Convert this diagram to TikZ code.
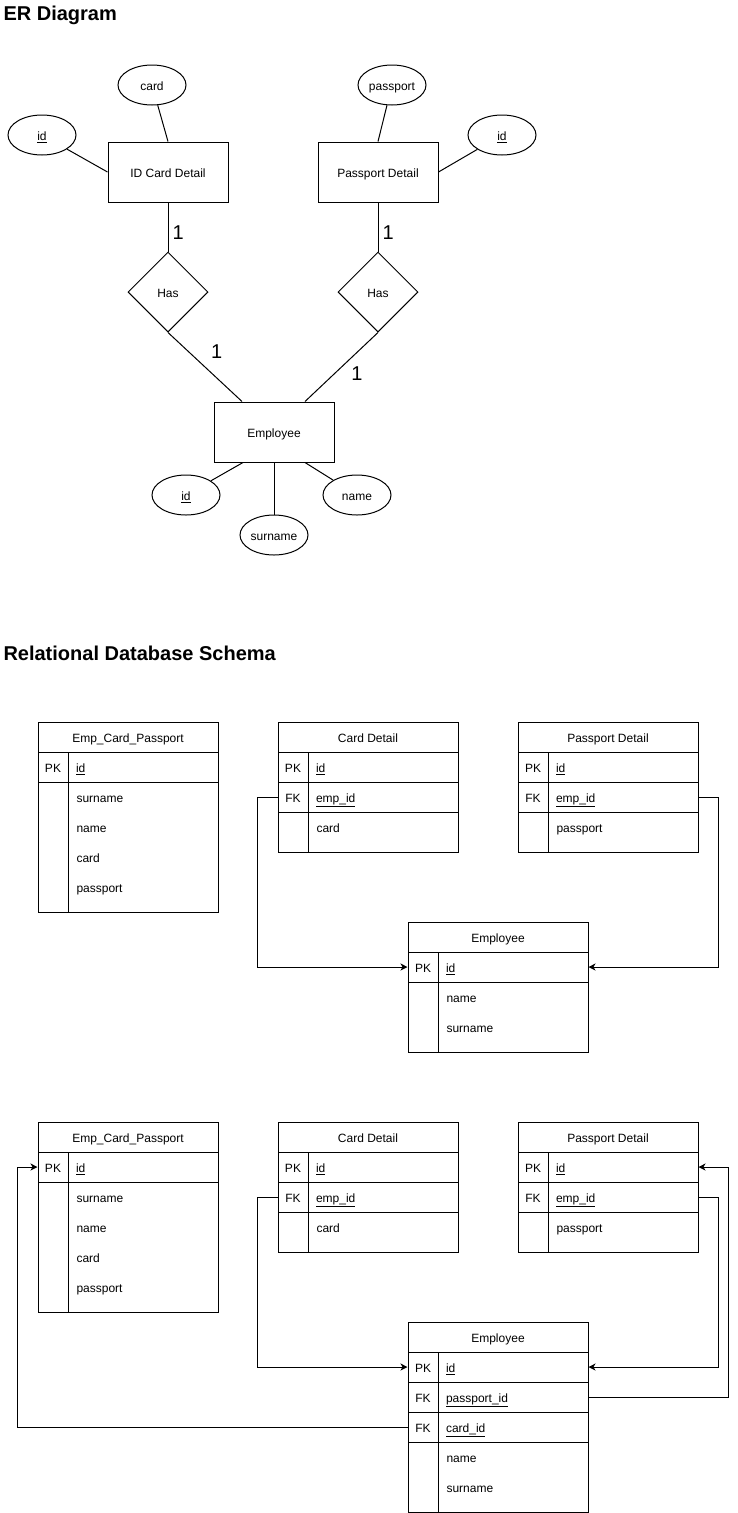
\documentclass[tikz,border=0pt]{standalone}
\usepackage{fontspec}
\setmainfont{Liberation Sans}
\usepackage{tikz}
\usetikzlibrary{shapes,arrows,arrows.meta}
\tikzstyle{line} = [draw, -{Stealth[length=7pt, width=7pt, inset=2pt]}]
\tikzstyle{txt} = [text height=11, text depth=0.5]
\tikzstyle{entity} = [draw, rectangle, txt, minimum width=120, minimum height=60]
\tikzstyle{attr} = [draw, ellipse, txt, inner sep=0, minimum width=68, minimum height=40]
\tikzstyle{rel} = [draw, diamond, txt, inner sep=0, minimum width=80, minimum height=80]
\tikzstyle{num} = [font=\fontsize{20}{24}\selectfont, inner sep=1]
\tikzstyle{heading} = [anchor=base west, inner sep=0, font=\bfseries\fontsize{20}{24}\selectfont]
\tikzstyle{thead} = [draw, txt, minimum width=180, minimum height=30]
\tikzstyle{kcell} = [draw, txt, inner sep=0, minimum width=30, minimum height=30]
\tikzstyle{fcell} = [draw, txt, minimum width=150, minimum height=30, text width=134, inner xsep=8, inner ysep=0, align=left]
\tikzstyle{ftext} = [anchor=west, txt, inner xsep=0]

\begin{document}
\begin{tikzpicture}[x=1pt, y=-1pt, line width=1pt, font=\fontsize{12}{14}\selectfont]

	\useasboundingbox (0,0) rectangle (737,1513);

	% titles
	\node[heading] (ertitle) at (3,20) {ER Diagram};
	\node[heading] (rdtitle) at (3,660) {Relational Database Schema};

	% ER nodes
	\node[entity] (idcard) at (168,172) {ID Card Detail};
	\node[entity] (passdet) at (378,172) {Passport Detail};
	\node[entity] (emp) at (274,432) {Employee};
	\node[rel] (has1) at (168,292) {Has};
	\node[rel] (has2) at (378,292) {Has};
	\node[attr] (cardid) at (42,135) {\underline{id}};
	\node[attr] (card) at (152,85) {card};
	\node[attr] (passport) at (392,85) {passport};
	\node[attr] (passid) at (502,135) {\underline{id}};
	\node[attr] (empid) at (186,495) {\underline{id}};
	\node[attr] (surname) at (274,535) {surname};
	\node[attr] (name) at (357,495) {name};

	% ER lines
	\draw (cardid) -- (idcard.west);
	\draw (card) -- (idcard.north);
	\draw (passport) -- (passdet.north);
	\draw (passid) -- (passdet.east);
	\draw (idcard) -- node[num, pos=0.62, right=3] {1} (has1);
	\draw (passdet) -- node[num, pos=0.62, right=3] {1} (has2);
	\draw (has1.south) -- node[num, pos=0.28, right=21] {1} ([xshift=-32]emp.north);
	\draw (has2.south) -- node[num, pos=0.59, right=15] {1} ([xshift=31]emp.north);
	\draw (empid) -- ([xshift=-31]emp.south);
	\draw (surname) -- (emp);
	\draw (name) -- ([xshift=31]emp.south);

	% schema 1
	\node[thead] (ecpA) at (128,737) {Emp\_Card\_Passport};
	\node[kcell] (ecpApk) at (53,767) {PK};
	\node[fcell] (ecpAid) at (143,767) {\underline{id}};
	\node[kcell, minimum height=130] (ecpAk) at (53,847) {};
	\node[fcell, minimum height=130] (ecpAf) at (143,847) {};
	\node[ftext] (ecpAsur) at (76,797) {surname};
	\node[ftext] (ecpAname) at (76,827) {name};
	\node[ftext] (ecpAcard) at (76,857) {card};
	\node[ftext] (ecpApass) at (76,887) {passport};

	\node[thead] (cdA) at (368,737) {Card Detail};
	\node[kcell] (cdApk) at (293,767) {PK};
	\node[fcell] (cdAid) at (383,767) {\underline{id}};
	\node[kcell] (cdAfk) at (293,797) {FK};
	\node[fcell] (cdAemp) at (383,797) {\underline{emp\_id}};
	\node[kcell, minimum height=40] (cdAk) at (293,832) {};
	\node[fcell, minimum height=40] (cdAf) at (383,832) {};
	\node[ftext] (cdAcard) at (316,827) {card};

	\node[thead] (pdA) at (608,737) {Passport Detail};
	\node[kcell] (pdApk) at (533,767) {PK};
	\node[fcell] (pdAid) at (623,767) {\underline{id}};
	\node[kcell] (pdAfk) at (533,797) {FK};
	\node[fcell] (pdAemp) at (623,797) {\underline{emp\_id}};
	\node[kcell, minimum height=40] (pdAk) at (533,832) {};
	\node[fcell, minimum height=40] (pdAf) at (623,832) {};
	\node[ftext] (pdApass) at (556,827) {passport};

	\node[thead] (empA) at (498,937) {Employee};
	\node[kcell] (empApk) at (423,967) {PK};
	\node[fcell] (empAid) at (513,967) {\underline{id}};
	\node[kcell, minimum height=70] (empAk) at (423,1017) {};
	\node[fcell, minimum height=70] (empAf) at (513,1017) {};
	\node[ftext] (empAname) at (446,997) {name};
	\node[ftext] (empAsur) at (446,1027) {surname};

	\draw [line] (cdAfk.west) -- ++(-20,0) |- (empApk.west);
	\draw [line] (pdAemp.east) -- ++(20,0) |- (empAid.east);

	% schema 2
	\node[thead] (ecpB) at (128,1137) {Emp\_Card\_Passport};
	\node[kcell] (ecpBpk) at (53,1167) {PK};
	\node[fcell] (ecpBid) at (143,1167) {\underline{id}};
	\node[kcell, minimum height=130] (ecpBk) at (53,1247) {};
	\node[fcell, minimum height=130] (ecpBf) at (143,1247) {};
	\node[ftext] (ecpBsur) at (76,1197) {surname};
	\node[ftext] (ecpBname) at (76,1227) {name};
	\node[ftext] (ecpBcard) at (76,1257) {card};
	\node[ftext] (ecpBpass) at (76,1287) {passport};

	\node[thead] (cdB) at (368,1137) {Card Detail};
	\node[kcell] (cdBpk) at (293,1167) {PK};
	\node[fcell] (cdBid) at (383,1167) {\underline{id}};
	\node[kcell] (cdBfk) at (293,1197) {FK};
	\node[fcell] (cdBemp) at (383,1197) {\underline{emp\_id}};
	\node[kcell, minimum height=40] (cdBk) at (293,1232) {};
	\node[fcell, minimum height=40] (cdBf) at (383,1232) {};
	\node[ftext] (cdBcard) at (316,1227) {card};

	\node[thead] (pdB) at (608,1137) {Passport Detail};
	\node[kcell] (pdBpk) at (533,1167) {PK};
	\node[fcell] (pdBid) at (623,1167) {\underline{id}};
	\node[kcell] (pdBfk) at (533,1197) {FK};
	\node[fcell] (pdBemp) at (623,1197) {\underline{emp\_id}};
	\node[kcell, minimum height=40] (pdBk) at (533,1232) {};
	\node[fcell, minimum height=40] (pdBf) at (623,1232) {};
	\node[ftext] (pdBpass) at (556,1227) {passport};

	\node[thead] (empB) at (498,1337) {Employee};
	\node[kcell] (empBpk) at (423,1367) {PK};
	\node[fcell] (empBid) at (513,1367) {\underline{id}};
	\node[kcell] (empBfk1) at (423,1397) {FK};
	\node[fcell] (empBpass) at (513,1397) {\underline{passport\_id}};
	\node[kcell] (empBfk2) at (423,1427) {FK};
	\node[fcell] (empBcard) at (513,1427) {\underline{card\_id}};
	\node[kcell, minimum height=70] (empBk) at (423,1477) {};
	\node[fcell, minimum height=70] (empBf) at (513,1477) {};
	\node[ftext] (empBname) at (446,1457) {name};
	\node[ftext] (empBsur) at (446,1487) {surname};

	\draw [line] (cdBfk.west) -- ++(-20,0) |- (empBpk.west);
	\draw [line] (pdBemp.east) -- ++(20,0) |- (empBid.east);
	\draw [line] (empBpass.east) -- ++(140,0) |- (pdBid.east);
	\draw [line] (empBfk2.west) -- ++(-390,0) |- (ecpBpk.west);

\end{tikzpicture}
\end{document}
